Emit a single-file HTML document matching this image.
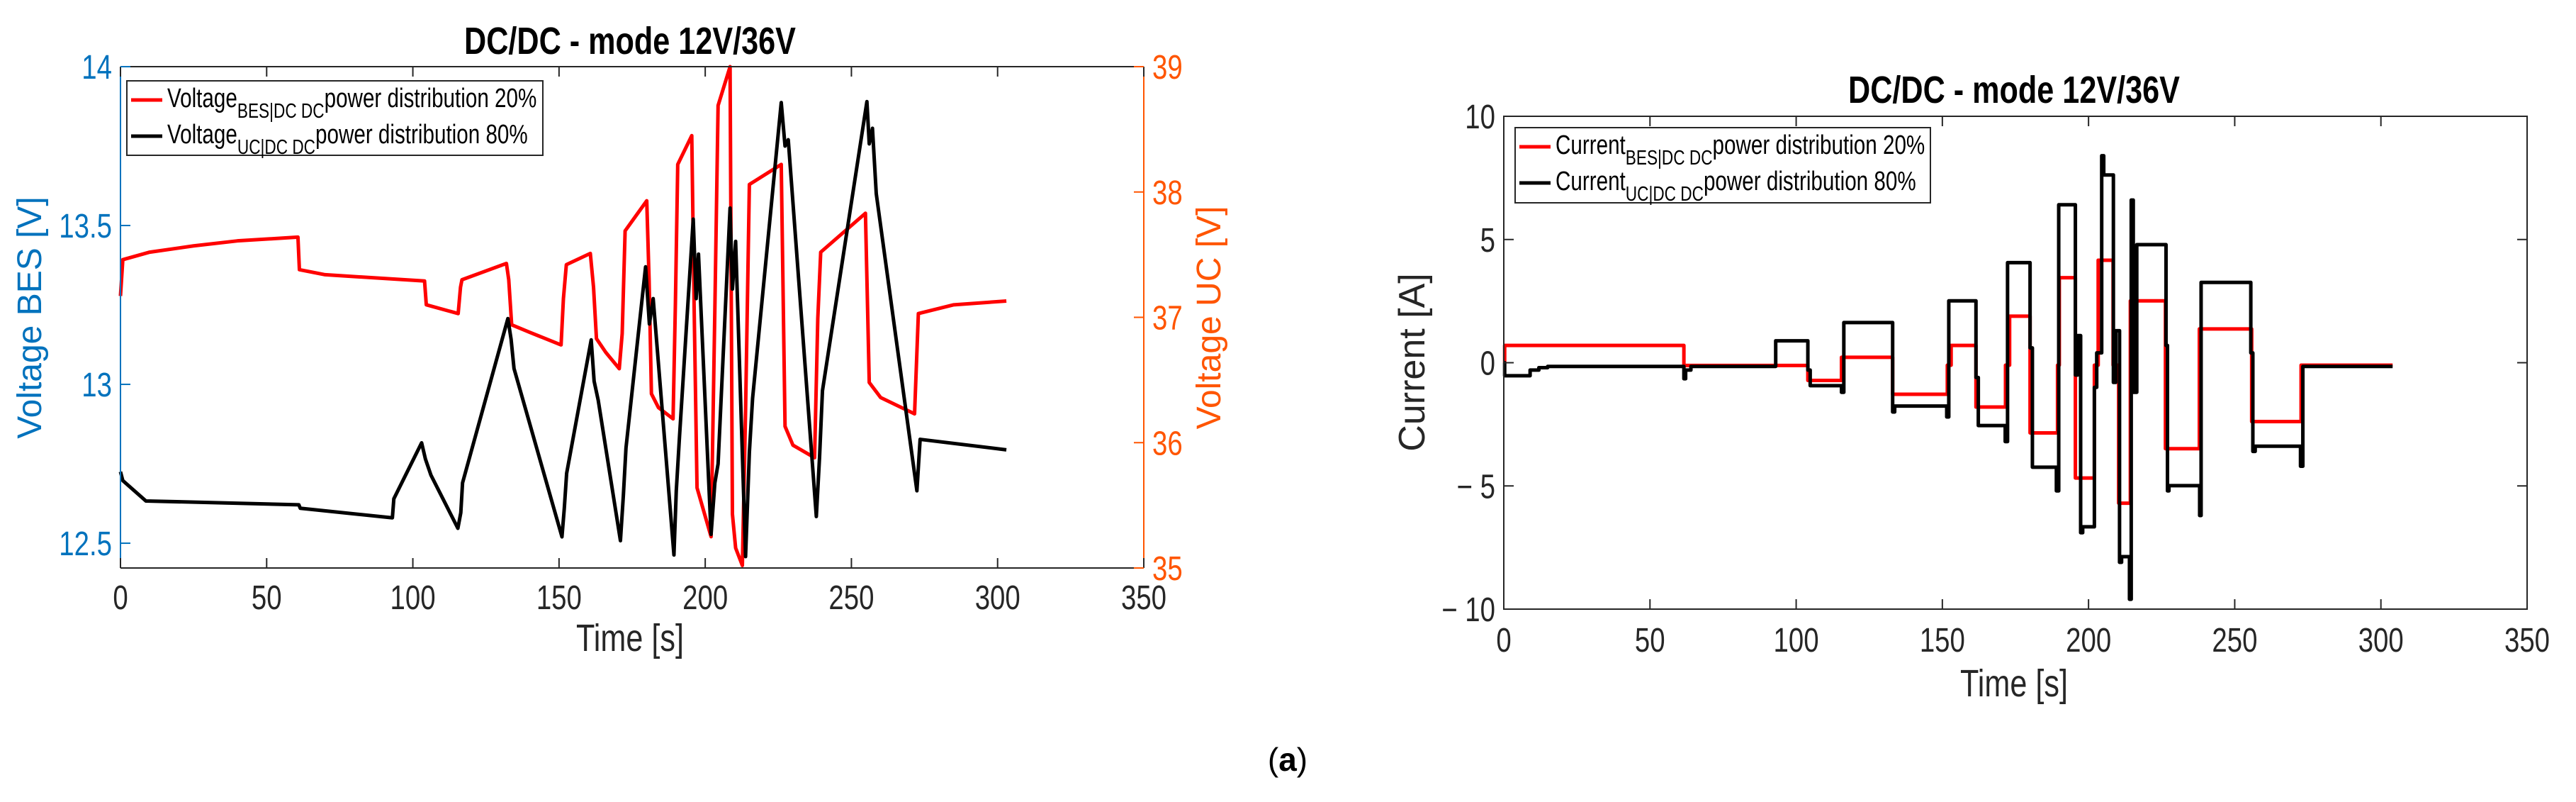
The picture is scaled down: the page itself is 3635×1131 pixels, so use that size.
<!DOCTYPE html>
<html><head><meta charset="utf-8"><style>
body{margin:0;background:#fff;}
svg{display:block}
text{font-family:"Liberation Sans",sans-serif;}
</style></head><body>
<svg id="c" width="3635" height="1131" viewBox="0 0 3635 1131" xmlns="http://www.w3.org/2000/svg"></svg>
<script>
// ---- data: left plot (voltages) ----
const ucTimes=[0,0.8,10,25,40,60.7,61.2,70,104,104.6,115.5,116.3,116.8,132,132.8,133.8,140,150.7,151.5,152.5,160.7,161.8,162.8,166,170.6,171.6,172.6,180,180.8,181.6,184,189,189.8,190.6,195.4,196.2,197.2,202,203.3,204.4,208.5,209.3,210.4,212.7,213.8,215.1,226,227.3,230,237.4,238.5,239.5,254.8,256.1,260,271.6,272.9,285,303];
const ucValues=[37.17,37.46,37.52,37.57,37.61,37.64,37.38,37.34,37.29,37.1,37.03,37.24,37.3,37.43,37.3,36.94,36.88,36.78,37.15,37.42,37.51,37.24,36.83,36.72,36.59,36.87,37.69,37.93,37.3,36.39,36.28,36.19,37.11,38.22,38.45,37.09,35.64,35.25,37.07,38.69,39,35.43,35.16,35.02,36.25,38.06,38.22,36.13,35.98,35.88,36.99,37.52,37.83,36.48,36.36,36.23,37.03,37.1,37.13];
const besTimes=[0,0.8,8.7,61,61.5,93,93.5,103,104.3,106.2,115.4,116.4,117,132.5,133.6,134.6,151,151.8,152.6,161,162,163.4,171,172,172.9,179.6,180.9,182.2,189.3,190.1,191.2,195.9,196.9,197.7,202,203.3,204.4,208.5,209.3,210.4,213.8,215.1,216.2,226,227.3,228.4,238,239.1,240.1,255.3,256.1,257.2,258.5,272.4,273.5,303];
const besValues=[12.725,12.697,12.633,12.621,12.61,12.58,12.64,12.816,12.765,12.714,12.547,12.596,12.69,13.207,13.142,13.05,12.52,12.61,12.72,13.14,13.01,12.95,12.508,12.65,12.8,13.37,13.19,13.27,12.463,12.665,12.835,13.52,13.27,13.41,12.528,12.69,12.75,13.555,13.3,13.45,12.458,12.786,12.956,13.887,13.75,13.77,12.584,12.77,12.98,13.89,13.757,13.806,13.6,12.665,12.827,12.794];
const xTicks=[0,50,100,150,200,250,300,350];
const besTicks=[12.5,13,13.5,14];
const ucTicks=[35,36,37,38,39];
// ---- data: right plot (currents, step series: value starting at time) ----
const iBesTimes=[0,0.3,61.6,104,115.5,133,151.7,153,161.5,171.6,173,180,189.4,190,195.5,202,203.3,208.4,210.3,214.3,226.3,237.9,255.8,272.7,304];
const iBesValues=[0,0.7,-0.11,-0.72,0.22,-1.28,-0.1,0.7,-1.8,-0.1,1.89,-2.85,-0.1,3.45,-4.68,-0.1,4.16,-0.1,-5.7,2.51,-3.49,1.37,-2.39,-0.1,-0.1];
const iUcTimes=[0,0.3,9,12,15,61.6,62.2,64,93,104,104.8,115.5,116.3,133,133.7,151.5,152.2,161.5,162.3,171.5,172.3,180,180.8,189,189.8,195.5,196.3,197.3,198,202,202.8,204.5,205.2,208.5,209.3,210.6,211.3,214,214.6,215.3,216.5,226.5,227,227.5,238,238.5,255.5,256.2,257,272.5,273.3,304];
const iUcValues=[0,-0.53,-0.3,-0.2,-0.15,-0.65,-0.3,-0.15,0.89,-0.3,-0.93,-1.2,1.63,-2.0,-1.76,-2.2,2.51,-0.6,-2.55,-3.2,4.06,0.6,-4.24,-5.2,6.41,-0.5,1.1,-6.9,-6.66,-1.0,0.4,8.4,7.62,-0.8,1.3,-8.1,-7.87,-9.6,6.6,-1.2,4.79,0.7,-5.2,-4.99,-6.2,3.26,0.4,-3.6,-3.39,-4.2,-0.15,-0.15];
const iTicks=[-10,-5,0,5,10];
const iTickLabels=["\u2212 10","\u2212 5","0","5","10"];

const NS="http://www.w3.org/2000/svg";
const svg=document.getElementById('c');
function el(tag,attrs,parent){const e=document.createElementNS(NS,tag);for(const k in attrs)e.setAttribute(k,attrs[k]);(parent||svg).appendChild(e);return e;}
// narrow text: scaled horizontally
function ntxt(s,x,y,attrs,parent,sx){const a=Object.assign({x:0,y:0,transform:'translate('+x+','+y+') scale('+(sx||0.8)+',1)'},attrs);const e=el('text',a,parent);e.textContent=s;return e;}

// ===== LEFT PLOT =====
const L={x0:170,x1:1614,y0:94,y1:801};
const lx=t=>L.x0+t/350*(L.x1-L.x0);
const lyB=v=>L.y1-(v-12.422)/(14-12.422)*(L.y1-L.y0);
const lyU=v=>L.y1-(v-35)/4*(L.y1-L.y0);
const gL=el('g',{});


function poly(ts,vs,fx,fy,color,name,step,parent){
  let d='';
  for(let i=0;i<ts.length;i++){
    const x=fx(ts[i]),y=fy(vs[i]);
    if(i===0)d+='M'+x+' '+y;
    else{ if(step)d+='L'+x+' '+fy(vs[i-1]); d+='L'+x+' '+y;}
  }
  const p=el('path',{d:d,fill:'none',stroke:color,'stroke-width':5,'stroke-linejoin':'round'},parent);
  
  
  return p;
}
poly(ucTimes,ucValues,lx,lyU,'#ff0000','uc-voltage-line',false,gL);
poly(besTimes,besValues,lx,lyB,'#000000','bes-voltage-line',false,gL);
el('line',{x1:L.x0,y1:L.y0,x2:L.x1,y2:L.y0,stroke:'#262626','stroke-width':2},gL);
el('line',{x1:L.x0,y1:L.y1,x2:L.x1,y2:L.y1,stroke:'#262626','stroke-width':2},gL);
el('line',{x1:L.x0,y1:L.y0,x2:L.x0,y2:L.y1,stroke:'#0072bd','stroke-width':2},gL);
el('line',{x1:L.x1,y1:L.y0,x2:L.x1,y2:L.y1,stroke:'#ff5500','stroke-width':2},gL);
xTicks.forEach(t=>{
  const x=lx(t);
  el('line',{x1:x,y1:L.y1,x2:x,y2:L.y1-14,stroke:'#262626','stroke-width':2},gL);
  el('line',{x1:x,y1:L.y0,x2:x,y2:L.y0+14,stroke:'#262626','stroke-width':2},gL);
  const tl=ntxt(String(t),x,L.y1+58,{'font-size':48,fill:'#262626','text-anchor':'middle'},gL);
  
  
});
besTicks.forEach(v=>{
  const y=lyB(v);
  el('line',{x1:L.x0,y1:y,x2:L.x0+14,y2:y,stroke:'#0072bd','stroke-width':2},gL);
  const tl=ntxt(String(v),L.x0-12,y+17,{'font-size':48,fill:'#0072bd','text-anchor':'end'},gL);
  
  
});
ucTicks.forEach(v=>{
  const y=lyU(v);
  el('line',{x1:L.x1,y1:y,x2:L.x1-14,y2:y,stroke:'#ff5500','stroke-width':2},gL);
  const tl=ntxt(String(v),L.x1+12,y+17,{'font-size':48,fill:'#ff5500'},gL);
  
  
});
let t1=ntxt('DC/DC - mode 12V/36V',889,76,{'font-size':54,'font-weight':'bold','text-anchor':'middle',fill:'#000'},gL);


let xl=ntxt('Time [s]',889,918,{'font-size':54,'text-anchor':'middle',fill:'#262626'},gL);


let yl=el('text',{x:0,y:0,'font-size':48,'text-anchor':'middle',fill:'#0072bd',transform:'translate(58,448) rotate(-90)'},gL);
yl.textContent='Voltage BES [V]';


let yr=el('text',{x:0,y:0,'font-size':48,'text-anchor':'middle',fill:'#ff5500',transform:'translate(1722,448) rotate(-90)'},gL);
yr.textContent='Voltage UC [V]';


function legend(x,y,w,h,items,parent,name){
  const g=el('g',{},parent);
  
  
  el('rect',{x:x,y:y,width:w,height:h,fill:'#fff',stroke:'#262626','stroke-width':2},g);
  items.forEach((it,i)=>{
    const yy=y+27+i*51;
    const ln=el('line',{x1:x+6,y1:yy,x2:x+50,y2:yy,stroke:it.c,'stroke-width':5},g);
    
    
    const t=el('text',{x:0,y:0,'font-size':38,fill:'#000',transform:'translate('+(x+57)+','+(yy+10)+') scale(0.78,1)'},g);
    
    
    const a=el('tspan',{},t);a.textContent=it.a;
    const b=el('tspan',{dy:15,'font-size':29},t);b.textContent=it.b;
    const c=el('tspan',{dy:-15},t);c.textContent=it.d;
  });
}
legend(179,114,587,105,[{c:'#ff0000',a:'Voltage',b:'BES|DC DC',d:'power distribution 20%'},{c:'#000',a:'Voltage',b:'UC|DC DC',d:'power distribution 80%'}],gL,'left-legend');

// ===== RIGHT PLOT =====
const R={x0:2122,x1:3566,y0:164,y1:859};
const rx=t=>R.x0+t/350*(R.x1-R.x0);
const ry=v=>R.y1-(v+10)/20*(R.y1-R.y0);
const gR=el('g',{});


poly(iBesTimes,iBesValues,rx,ry,'#ff0000','bes-current-line',true,gR);
poly(iUcTimes,iUcValues,rx,ry,'#000000','uc-current-line',true,gR);
el('rect',{x:R.x0,y:R.y0,width:R.x1-R.x0,height:R.y1-R.y0,fill:'none',stroke:'#262626','stroke-width':2},gR);
xTicks.forEach(t=>{
  const x=rx(t);
  el('line',{x1:x,y1:R.y1,x2:x,y2:R.y1-14,stroke:'#262626','stroke-width':2},gR);
  el('line',{x1:x,y1:R.y0,x2:x,y2:R.y0+14,stroke:'#262626','stroke-width':2},gR);
  const tl=ntxt(String(t),x,R.y1+60,{'font-size':48,fill:'#262626','text-anchor':'middle'},gR);
  
  
});
iTicks.forEach((v,i)=>{
  const y=ry(v);
  el('line',{x1:R.x0,y1:y,x2:R.x0+14,y2:y,stroke:'#262626','stroke-width':2},gR);
  el('line',{x1:R.x1,y1:y,x2:R.x1-14,y2:y,stroke:'#262626','stroke-width':2},gR);
  const tl=ntxt(iTickLabels[i],R.x0-12,y+17,{'font-size':48,fill:'#262626','text-anchor':'end'},gR);
  
  
});
let t2=ntxt('DC/DC - mode 12V/36V',2842,145,{'font-size':54,'font-weight':'bold','text-anchor':'middle',fill:'#000'},gR);


let xl2=ntxt('Time [s]',2842,982,{'font-size':54,'text-anchor':'middle',fill:'#262626'},gR);


let yl2=el('text',{x:0,y:0,'font-size':52,'text-anchor':'middle',fill:'#262626',transform:'translate(2010,511) rotate(-90)'},gR);
yl2.textContent='Current [A]';


legend(2138,180,586,106,[{c:'#ff0000',a:'Current',b:'BES|DC DC',d:'power distribution 20%'},{c:'#000',a:'Current',b:'UC|DC DC',d:'power distribution 80%'}],gR,'right-legend');

const cap=el('text',{x:1817,y:1087,'font-size':46,'text-anchor':'middle',fill:'#000','font-family':'Liberation Serif, serif'});


cap.innerHTML='(<tspan font-weight="bold">a</tspan>)';
</script>
</body></html>
